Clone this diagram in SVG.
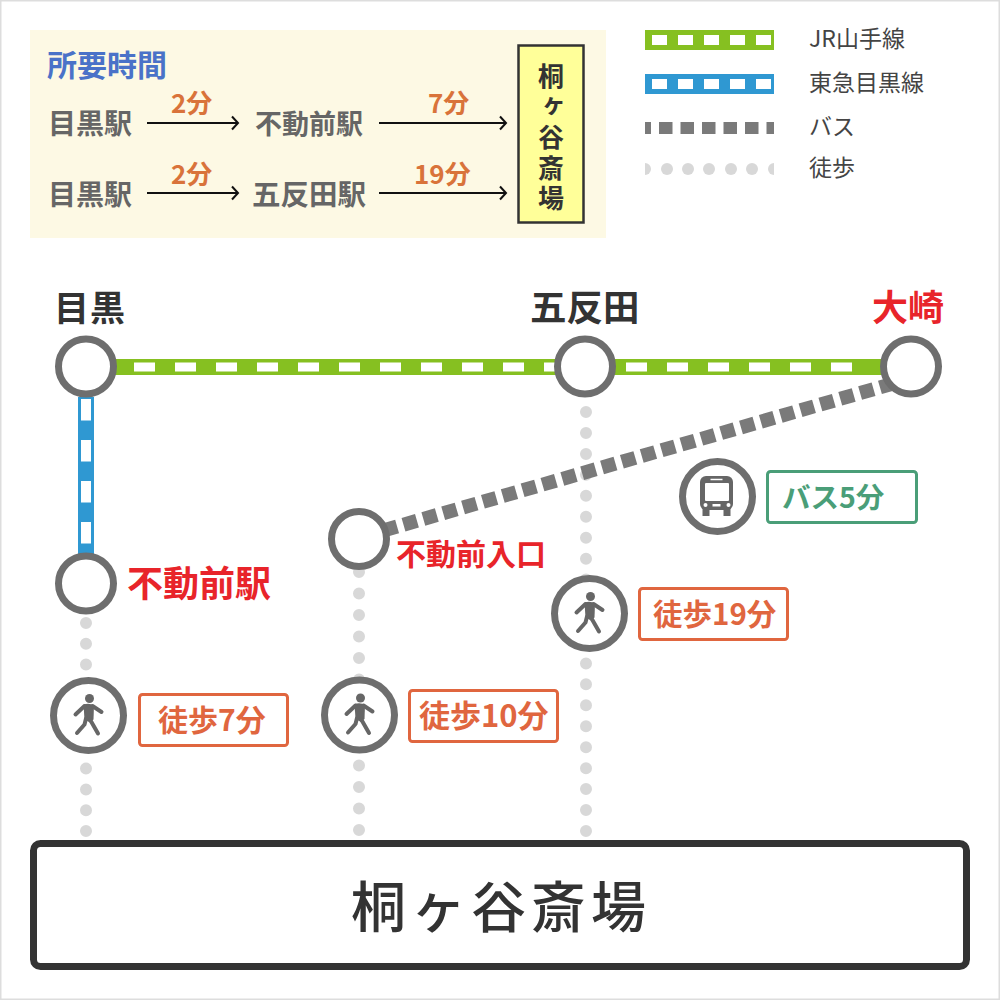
<svg xmlns="http://www.w3.org/2000/svg" width="1000" height="1000" viewBox="0 0 1000 1000">
<style>
text{font-family:"Noto Sans CJK JP","Noto Sans",sans-serif}
.st{fill:#666;font-size:28px;font-weight:700}
.t{fill:#d9733a;font-size:26px;font-weight:700}
.lg{fill:#444;font-size:23px;font-weight:400}
.h{fill:#333;font-weight:700}
.r{fill:#e8242a;font-weight:700}
.ring{fill:#fff;stroke:#6e6e6e;stroke-width:7}
.walk{fill:none;stroke:#e0663f;stroke-width:3}
.wt{fill:#e0663f;font-weight:700}
.dots{fill:none;stroke:#d8d8d8;stroke-width:12;stroke-linecap:round}
.bus{fill:none;stroke:#7a7a7a}
.wh{fill:none;stroke:#fff}
.arr{fill:none;stroke:#111;stroke-width:2}
</style>
<defs>
<marker id="ah" markerUnits="userSpaceOnUse" markerWidth="12" markerHeight="16" refX="9" refY="8" orient="auto"><path d="M3 1.500L9 8L3 14.500" fill="none" stroke="#111" stroke-width="2"/></marker>
<g id="walker"><circle cx="1" cy="-17" r="4.500" fill="#666"/><path d="M-5 -11Q1 -13 5.500 -10L5 4L1.500 7L-4 4Z" fill="#666"/><path d="M-13 -1L-4 -9.500M4 -9.500L13 -3.500M-2.500 3L-4 9L-11.500 17.500M1.500 4L9.500 18" fill="none" stroke="#666" stroke-width="4" stroke-linecap="round" stroke-linejoin="round"/></g>
<g id="busicon"><rect x="-16.500" y="-20" width="33" height="34" rx="6" fill="#666"/><rect x="-11.500" y="-13" width="24" height="18" fill="#fff" rx="1"/><path d="M-6 -16.500H6" stroke="#fff" stroke-width="1.500"/><rect x="-14" y="13" width="7" height="7" fill="#666"/><rect x="7" y="13" width="7" height="7" fill="#666"/><circle cx="-11" cy="9" r="2" fill="#fff"/><circle cx="12" cy="9" r="2" fill="#fff"/><rect x="-4" y="8" width="8" height="2.500" fill="#fff"/></g>
</defs>
<rect x="0.500" y="0.500" width="999" height="999" fill="#fff" stroke="#ddd" stroke-width="2"/>

<g id="panel">
<rect x="30" y="30" width="576" height="208" fill="#fdf9e4"/>
<text x="47" y="76" font-size="30" fill="#4a72c8" font-weight="700">所要時間</text>
<text x="48" y="134" class="st">目黒駅</text>
<text x="255" y="134" class="st" style="font-size:27px">不動前駅</text>
<text x="48" y="205" class="st">目黒駅</text>
<text x="252" y="205" class="st" style="font-size:28.500px">五反田駅</text>
<text x="171" y="113" class="t">2分</text>
<text x="428" y="113" class="t">7分</text>
<text x="171" y="184" class="t">2分</text>
<text x="414" y="184" class="t">19分</text>
</g>
<g id="panel-arrows">
<path d="M147 123H238" class="arr" marker-end="url(#ah)"/>
<path d="M379 123H506" class="arr" marker-end="url(#ah)"/>
<path d="M147 193H238" class="arr" marker-end="url(#ah)"/>
<path d="M379 193H506" class="arr" marker-end="url(#ah)"/>
</g>
<g id="dest-mini">
<rect x="518.500" y="45.500" width="65" height="177" fill="#ffff99" stroke="#333" stroke-width="2.500"/>
<text x="551" y="63" writing-mode="vertical-rl" fill="#333" font-size="26" font-weight="700" letter-spacing="4.600">桐ヶ谷斎場</text>
</g>

<g id="legend">
<rect x="645" y="30" width="129" height="20" fill="#86c021"/>
<path d="M652 40H774" fill="none" stroke="#fff" stroke-width="10" stroke-dasharray="15 11"/>
<rect x="645" y="74" width="129" height="20" fill="#2f98d2"/>
<path d="M652 84H774" fill="none" stroke="#fff" stroke-width="10" stroke-dasharray="15 11"/>
<path d="M645 128H774" class="bus" stroke-width="12" stroke-dasharray="13.500 8" stroke-dashoffset="7.500"/>
<g fill="#d8d8d8"><path d="M645 163A6 6 0 0 1 645 175Z"/><circle cx="667" cy="169" r="6"/><circle cx="688" cy="169" r="6"/><circle cx="709" cy="169" r="6"/><circle cx="731" cy="169" r="6"/><circle cx="752" cy="169" r="6"/><path d="M774 163A6 6 0 0 0 774 175Z"/></g>
<text x="809" y="47" class="lg">JR山手線</text>
<text x="809" y="91" class="lg">東急目黒線</text>
<text x="809" y="135" class="lg">バス</text>
<text x="809" y="176" class="lg">徒歩</text>
</g>

<g id="connectors">
<path d="M86 367H911" fill="none" stroke="#86c021" stroke-width="16"/>
<path d="M93 367H860" class="wh" stroke-width="9" stroke-dasharray="21 20"/>
<path d="M86 397V556" fill="none" stroke="#2f98d2" stroke-width="16"/>
<path d="M86 399V546" class="wh" stroke-width="10" stroke-dasharray="21.500 19.500"/>
<path d="M86 623V832" class="dots" stroke-dasharray="0 20.800"/>
<path d="M359 572V832" class="dots" stroke-dasharray="0 21.500"/>
<path d="M586 412V832" class="dots" stroke-dasharray="0 20.950"/>
<path d="M893.400 383.500L385 530" class="bus" stroke-width="14" stroke-dasharray="14 6.660"/>
</g>

<g id="meguro"><circle cx="86" cy="366.500" r="27.500" class="ring"/><text x="54" y="321" class="h" font-size="35" letter-spacing="1">目黒</text></g>
<g id="gotanda"><circle cx="585" cy="366.500" r="27.500" class="ring"/><text x="530" y="321" class="h" font-size="36.500">五反田</text></g>
<g id="osaki"><circle cx="911" cy="366.500" r="27.500" class="ring"/><text x="872" y="321" class="r" font-size="36">大崎</text></g>
<g id="fudomae"><circle cx="86" cy="583.500" r="27.500" class="ring"/><text x="127" y="597" class="r" font-size="36">不動前駅</text></g>
<g id="fudomae-iriguchi"><circle cx="359" cy="539" r="27.500" class="ring"/><text x="396" y="565" class="r" font-size="30">不動前入口</text></g>

<g id="walk7"><circle cx="88.500" cy="715.500" r="35" class="ring"/><use href="#walker" x="88.500" y="715.500"/><rect x="139.500" y="694.500" width="148" height="51" rx="3" class="walk"/><text x="158" y="731" class="wt" font-size="30">徒歩7分</text></g>
<g id="walk10"><circle cx="359.500" cy="715" r="35" class="ring"/><use href="#walker" x="359.500" y="715"/><rect x="409.500" y="690.500" width="148" height="51" rx="3" class="walk"/><text x="419" y="727" class="wt" font-size="31">徒歩10分</text></g>
<g id="walk19"><circle cx="589.500" cy="613.500" r="35" class="ring"/><use href="#walker" x="589.500" y="613.500"/><rect x="639.500" y="588.500" width="148" height="51" rx="3" class="walk"/><text x="653" y="625" class="wt" font-size="29.500">徒歩19分</text></g>
<g id="bus5"><circle cx="717.500" cy="496.500" r="35" class="ring"/><use href="#busicon" x="716.500" y="496"/><rect x="767.500" y="471.500" width="149" height="51" rx="3" fill="none" stroke="#4a9e78" stroke-width="3"/><text x="782" y="508" fill="#4a9e78" font-size="28.500" font-weight="700">バス5分</text></g>

<g id="destination"><rect x="33.500" y="843.500" width="933" height="123" rx="7" fill="#fff" stroke="#333" stroke-width="7"/><text x="501" y="927" text-anchor="middle" fill="#333" font-size="55" font-weight="500" letter-spacing="5">桐ヶ谷斎場</text></g>
</svg>
